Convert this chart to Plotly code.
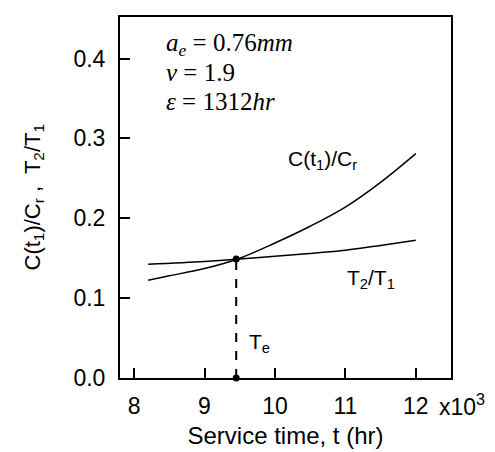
import plotly.graph_objects as go

# service time in thousands of hours
t_c = [8.2, 8.5, 9.0, 9.5, 10.0, 10.5, 11.0, 11.5, 12.0]
c_ratio = [0.1225, 0.128, 0.137, 0.150, 0.169, 0.190, 0.214, 0.245, 0.281]
t_t = [8.2, 9.0, 9.5, 10.0, 10.5, 11.0, 11.5, 12.0]
t_ratio = [0.1425, 0.146, 0.149, 0.1525, 0.156, 0.160, 0.166, 0.1725]
t_e = 9.45
c_e = 0.149
x_ticks = [8, 9, 10, 11, 12]
y_ticks = [0.0, 0.1, 0.2, 0.3, 0.4]

fig = go.Figure()
line = dict(color="black", width=1.5)
fig.add_trace(go.Scatter(x=t_c, y=c_ratio, mode="lines", line=dict(shape="spline", **line), showlegend=False))
fig.add_trace(go.Scatter(x=t_t, y=t_ratio, mode="lines", line=dict(shape="spline", **line), showlegend=False))
fig.add_trace(go.Scatter(x=[t_e, t_e], y=[0, c_e], mode="lines+markers",
                         line=dict(color="black", width=2, dash="dash"),
                         marker=dict(color="black", size=7), showlegend=False, cliponaxis=False))

fnt = dict(family="Liberation Sans, Arial, sans-serif", color="black")
fig.update_layout(
    width=495, height=452,
    margin=dict(l=112, r=52, t=7, b=82),
    plot_bgcolor="white", paper_bgcolor="white",
    font=dict(size=22, **fnt),
    xaxis=dict(range=[7.8, 12.5], tickvals=x_ticks, ticktext=[str(v) for v in x_ticks],
               ticks="inside", ticklen=10, tickwidth=1.5, tickcolor="black",
               showline=True, linecolor="black", linewidth=2, mirror=True,
               showgrid=False, zeroline=False, ticklabelstandoff=6,
               tickfont=dict(size=23, **fnt),
               title=dict(text="Service time, t (hr)", font=dict(size=24, **fnt), standoff=10)),
    yaxis=dict(range=[0, 0.452], tickvals=y_ticks, ticktext=[f"{v:.1f}" for v in y_ticks],
               ticks="inside", ticklen=10, tickwidth=1.5, tickcolor="black",
               showline=True, linecolor="black", linewidth=2, mirror=True,
               showgrid=False, zeroline=False, ticklabelstandoff=8,
               tickfont=dict(size=23, **fnt)),
)

# y-axis title placed as a rotated annotation to control its distance from the axis
fig.add_annotation(x=0, y=0.5, xref="paper", yref="y domain", xshift=-87, textangle=-90,
                   text="C(t<sub>1</sub>)/C<sub>r</sub> ,  T<sub>2</sub>/T<sub>1</sub>",
                   showarrow=False, xanchor="center", yanchor="middle", font=dict(size=22, **fnt))

serif = dict(family="Liberation Serif, Times New Roman, serif", size=25, color="black")
notes = ["<i>a<sub>e</sub></i> = 0.76<i>mm</i>", "<i>ν</i> = 1.9", "<i>ε</i> = 1312<i>hr</i>"]
for i, txt in enumerate(notes):
    fig.add_annotation(x=8.42, y=0.418 - i * 0.036, xref="x", yref="y", text=txt, showarrow=False,
                       xanchor="left", yanchor="middle", font=serif)

lbl = dict(size=21, **fnt)
fig.add_annotation(x=10.15, y=0.273, text="C(t<sub>1</sub>)/C<sub>r</sub>", showarrow=False,
                   xanchor="left", yanchor="middle", font=lbl)
fig.add_annotation(x=11.0, y=0.124, text="T<sub>2</sub>/T<sub>1</sub>", showarrow=False,
                   xanchor="left", yanchor="middle", font=lbl)
fig.add_annotation(x=9.6, y=0.044, text="T<sub>e</sub>", showarrow=False,
                   xanchor="left", yanchor="middle", font=lbl)
fig.add_annotation(x=1, y=0, xref="x domain", yref="y domain", xshift=-14, yshift=-27,
                   text="x10<sup>3</sup>", showarrow=False,
                   xanchor="left", yanchor="middle", font=dict(size=23, **fnt))

fig.write_html("out.html")
